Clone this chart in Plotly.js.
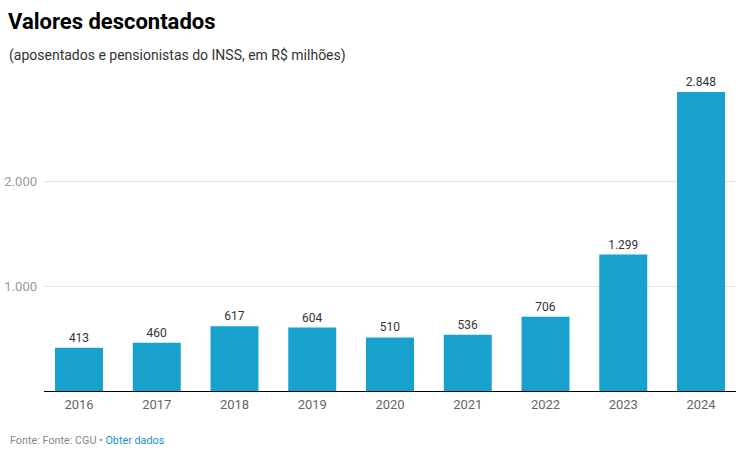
<!DOCTYPE html>
<html>
<head>
<meta charset="utf-8">
<script src="https://cdn.plot.ly/plotly-3.0.1.min.js"></script>
<style>html,body{margin:0;padding:0;background:#fff;}#chart{width:739px;height:456px;}</style>
</head>
<body>
<div id="chart"></div>
<script>
const years = ["2016","2017","2018","2019","2020","2021","2022","2023","2024"];
const values = [413, 460, 617, 604, 510, 536, 706, 1299, 2848];
const valueLabels = ["413","460","617","604","510","536","706","1.299","2.848"];
const yTickVals = [1000, 2000];
const yTickText = ["1.000", "2.000"];

const W = 739, H = 456, L = 44, R = 3, T = 76, B = 65;
const pw = W - L - R, ph = H - T - B;
const px = x => (x - L) / pw;
const py = y => (H - B - y) / ph;

const trace = {
  type: 'bar',
  x: years,
  y: values,
  text: valueLabels,
  textposition: 'outside',
  cliponaxis: false,
  textfont: {family: 'Roboto', size: 12, color: '#333333'},
  marker: {color: '#18a1cd'},
  hoverinfo: 'none'
};

const layout = {
  width: W, height: H,
  margin: {l: L, r: R, t: T, b: B},
  paper_bgcolor: '#ffffff',
  plot_bgcolor: '#ffffff',
  bargap: 0.383,
  showlegend: false,
  font: {family: 'Roboto', color: '#333'},
  title: {
    text: '<b>Valores descontados</b>',
    font: {family: 'Roboto', size: 22, color: '#000000'},
    xref: 'container', yref: 'container',
    x: 8 / W, xanchor: 'left',
    y: 1 - 21 / H, yanchor: 'middle'
  },
  xaxis: {
    type: 'category',
    range: [-0.45, 8.45],
    showgrid: false,
    showline: false,
    ticks: '',
    tickfont: {family: 'Roboto', size: 13, color: '#666666'},
    ticklabelstandoff: 4,
    fixedrange: true
  },
  yaxis: {
    range: [0, 3000],
    tickvals: yTickVals,
    ticktext: yTickText,
    showgrid: true,
    gridcolor: '#e2e2e2',
    gridwidth: 1,
    zeroline: true,
    zerolinecolor: '#000000',
    zerolinewidth: 1,
    showline: false,
    ticks: '',
    ticklabelstandoff: 6,
    tickfont: {family: 'Roboto', size: 13, color: '#9a9a9a'},
    fixedrange: true
  },
  annotations: [
    {
      text: '(aposentados e pensionistas do INSS, em R$ milhões)',
      xref: 'paper', yref: 'paper',
      x: px(7), y: py(55), xanchor: 'left', yanchor: 'middle',
      showarrow: false,
      font: {family: 'Roboto', size: 14, color: '#333333'}
    },
    {
      text: 'Fonte: Fonte: CGU • <span style="color:#1a8fc9">Obter dados</span>',
      xref: 'paper', yref: 'paper',
      x: px(8), y: py(441), xanchor: 'left', yanchor: 'middle',
      showarrow: false,
      font: {family: 'Roboto', size: 10.8, color: '#888888'}
    }
  ]
};

Plotly.newPlot('chart', [trace], layout, {displayModeBar: false, staticPlot: true});
</script>
</body>
</html>
